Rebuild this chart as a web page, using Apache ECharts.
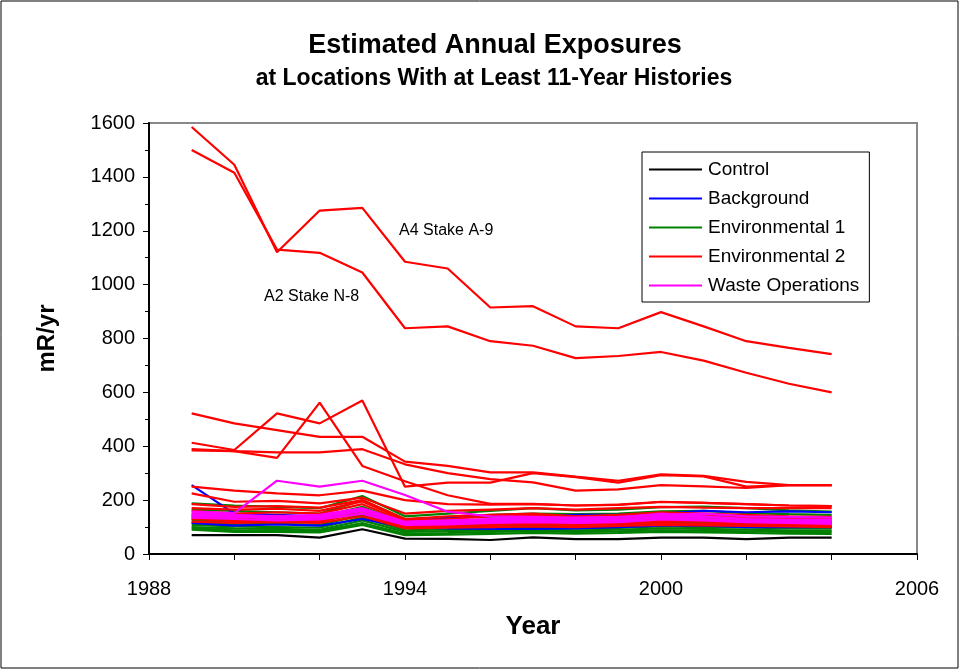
<!DOCTYPE html>
<html>
<head>
<meta charset="utf-8">
<script src="https://cdn.jsdelivr.net/npm/echarts@6/dist/echarts.min.js"></script>
<style>html,body{margin:0;padding:0;background:#fff;}#c{width:962px;height:672px;}</style>
</head>
<body>
<div id="c"></div>
<script>
const years = [1989,1990,1991,1992,1993,1994,1995,1996,1997,1998,1999,2000,2001,2002,2003,2004];
const categories = ['Control','Background','Environmental 1','Environmental 2','Waste Operations'];
const xTicks = [1988, 1994, 2000, 2006];

const controlLines = [
  [70, 70, 70, 61, 92, 57, 56, 52, 62, 55, 55, 61, 61, 55, 61, 61]
];
const backgroundLines = [
  [256, 150, 145, 140, 165, 125, 135, 140, 140, 145, 145, 150, 160, 155, 158, 155],
  [115, 105, 110, 105, 130, 100, 95, 93, 93, 95, 100, 105, 105, 100, 100, 100]
];
const env1Lines = [
  [188, 180, 175, 170, 215, 140, 150, 160, 170, 162, 165, 174, 176, 170, 162, 157],
  [165, 160, 155, 150, 200, 130, 135, 145, 150, 148, 150, 158, 160, 152, 148, 145],
  [140, 135, 140, 138, 175, 115, 120, 125, 128, 125, 128, 135, 132, 128, 126, 125],
  [130, 125, 130, 125, 165, 112, 118, 120, 122, 120, 122, 128, 126, 120, 118, 118],
  [125, 120, 122, 118, 160, 105, 110, 112, 115, 112, 115, 120, 118, 115, 114, 113],
  [115, 110, 112, 108, 145, 95, 100, 102, 105, 102, 104, 110, 108, 105, 104, 103],
  [108, 102, 100, 98, 135, 88, 92, 95, 98, 95, 97, 102, 100, 98, 96, 96],
  [100, 95, 93, 90, 125, 82, 85, 88, 90, 88, 90, 95, 93, 90, 88, 88],
  [95, 88, 88, 85, 115, 75, 78, 82, 84, 82, 84, 88, 86, 84, 82, 82],
  [90, 82, 82, 80, 108, 70, 72, 75, 78, 76, 78, 82, 80, 78, 76, 75]
];
const env2Lines = [
  [1585, 1445, 1120, 1275, 1285, 1085, 1060, 915, 920, 845, 838, 898, 845, 790, 765, 742],
  [1500, 1415, 1130, 1118, 1045, 838, 845, 790, 773, 727, 735, 750, 718, 673, 632, 600],
  [522, 485, 460, 435, 435, 343, 327, 303, 303, 287, 272, 296, 290, 268, 256, 256],
  [413, 386, 522, 485, 570, 250, 265, 265, 300, 285, 265, 293, 288, 250, 256, 256],
  [385, 382, 357, 562, 327, 270, 218, 186, 186, 180, 183, 194, 190, 185, 180, 178],
  [389, 382, 377, 377, 389, 333, 300, 278, 266, 235, 240, 256, 251, 245, 256, 256],
  [250, 235, 225, 218, 235, 200, 185, 183, 185, 180, 182, 193, 190, 185, 180, 178],
  [225, 194, 197, 188, 209, 150, 160, 165, 170, 165, 170, 175, 172, 170, 170, 170],
  [185, 175, 178, 172, 200, 130, 140, 145, 150, 140, 145, 155, 150, 145, 140, 138],
  [170, 165, 168, 160, 195, 125, 130, 140, 142, 138, 140, 150, 145, 140, 135, 133],
  [160, 150, 155, 150, 185, 120, 125, 128, 130, 128, 130, 140, 138, 132, 130, 128],
  [150, 140, 142, 140, 170, 112, 118, 120, 122, 120, 124, 130, 128, 124, 122, 120],
  [140, 130, 135, 130, 160, 105, 110, 115, 115, 112, 116, 122, 120, 116, 114, 112],
  [130, 122, 125, 122, 150, 100, 104, 108, 110, 108, 110, 115, 112, 110, 108, 106],
  [120, 115, 118, 115, 140, 95, 98, 100, 102, 100, 104, 108, 106, 104, 102, 100]
];
const wasteLines = [
  [157, 152, 272, 250, 272, 219, 157, 140, 138, 135, 138, 145, 150, 140, 138, 135],
  [150, 145, 140, 145, 170, 120, 125, 130, 135, 130, 135, 150, 140, 130, 128, 126],
  [145, 140, 138, 140, 165, 118, 120, 125, 128, 124, 128, 140, 138, 128, 125, 122],
  [140, 138, 132, 135, 160, 112, 115, 120, 125, 120, 125, 135, 130, 122, 120, 118],
  [135, 130, 125, 128, 150, 108, 110, 115, 118, 115, 118, 128, 125, 118, 115, 112]
];
const annotations = [
  {text: 'A4 Stake A-9', x: 399, y: 232},
  {text: 'A2 Stake N-8', x: 264, y: 298}
];

const colors = {
  'Control': '#000000',
  'Background': '#0000ff',
  'Environmental 1': '#008000',
  'Environmental 2': '#ff0000',
  'Waste Operations': '#ff00ff'
};
const FONT = 'Liberation Sans, Arial, sans-serif';

function mk(name, lines) {
  return lines.map(vals => ({
    name: name,
    type: 'line',
    data: vals.map((v, i) => [years[i], v]),
    symbol: 'none',
    showSymbol: false,
    lineStyle: {color: colors[name], width: 2.2},
    itemStyle: {color: colors[name]},
    emphasis: {disabled: true},
    animation: false
  }));
}

const series = [].concat(
  mk('Control', controlLines),
  mk('Environmental 1', env1Lines),
  mk('Background', backgroundLines),
  mk('Environmental 2', env2Lines),
  mk('Waste Operations', wasteLines)
);

const chart = echarts.init(document.getElementById('c'), null, {renderer: 'canvas', width: 962, height: 672});
chart.setOption({
  animation: false,
  backgroundColor: '#ffffff',
  textStyle: {fontFamily: FONT},
  title: [
    {text: 'Estimated Annual Exposures', left: 490, top: 27, textAlign: 'center',
     textStyle: {fontFamily: FONT, fontSize: 27, fontWeight: 'bold', color: '#000'}},
    {text: 'at Locations With at Least 11-Year Histories', left: 489, top: 62, textAlign: 'center',
     textStyle: {fontFamily: FONT, fontSize: 23, fontWeight: 'bold', color: '#000'}}
  ],
  legend: {
    data: categories,
    orient: 'vertical',
    left: 642, top: 152,
    padding: [8, 10, 7, 7],
    itemGap: 10,
    itemWidth: 53, itemHeight: 2,
    icon: 'rect',
    borderColor: '#000', borderWidth: 1,
    backgroundColor: '#fff',
    textStyle: {fontFamily: FONT, fontSize: 19, color: '#000', lineHeight: 19, padding: [0, 0, 0, 1]},
    selectedMode: false
  },
  grid: {left: 149, right: 45, top: 123, bottom: 118, show: true, borderColor: '#888', borderWidth: 2, backgroundColor: 'transparent'},
  xAxis: {
    type: 'value', min: 1988, max: 2006, interval: 2,
    name: 'Year', nameLocation: 'middle', nameGap: 60,
    nameTextStyle: {fontFamily: FONT, fontSize: 26, fontWeight: 'bold', color: '#000'},
    axisLine: {show: true, lineStyle: {color: '#000', width: 2}},
    axisTick: {show: true, length: 6, lineStyle: {color: '#000', width: 1}},
    axisLabel: {fontFamily: FONT, fontSize: 20, color: '#000', margin: 25,
      formatter: v => xTicks.indexOf(v) >= 0 ? String(v) : ''},
    splitLine: {show: false}
  },
  yAxis: {
    type: 'value', min: 0, max: 1600, interval: 200,
    name: 'mR/yr', nameLocation: 'middle', nameGap: 90, nameRotate: 90,
    nameTextStyle: {fontFamily: FONT, fontSize: 24, fontWeight: 'bold', color: '#000'},
    axisLine: {show: true, lineStyle: {color: '#000', width: 2}},
    axisTick: {show: true, length: 6, lineStyle: {color: '#000', width: 1}},
    minorTick: {show: true, splitNumber: 2, length: 4, lineStyle: {color: '#000', width: 1}},
    axisLabel: {fontFamily: FONT, fontSize: 20, color: '#000', margin: 14,
      formatter: v => String(v)},
    splitLine: {show: false}
  },
  graphic: [
    {type: 'rect', shape: {x: 1, y: 1, width: 957, height: 667}, style: {fill: 'none', stroke: '#000', lineWidth: 1}, silent: true, z: -1}
  ].concat(annotations.map(a => ({
    type: 'text', left: a.x, top: a.y - 9, silent: true,
    style: {text: a.text, font: '16px ' + FONT, fill: '#000'}
  }))),
  series: series
});
</script>
</body>
</html>
